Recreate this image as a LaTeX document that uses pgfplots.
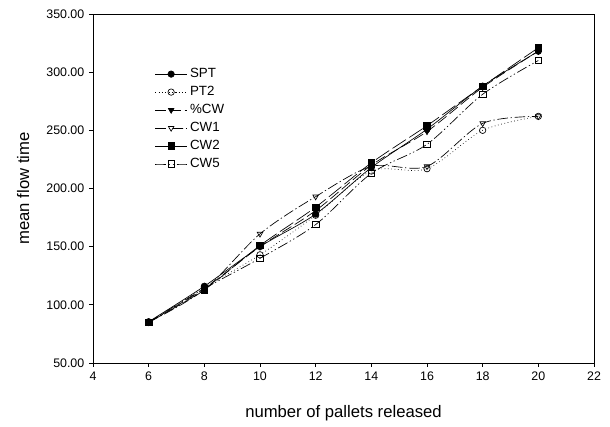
\documentclass[border=0pt]{standalone}
\usepackage{pgfplots}
\pgfplotsset{compat=1.18}
\usepackage{fontspec}
\setmainfont{Liberation Sans}

\begin{document}
\begin{tikzpicture}
\begin{axis}[
  scale only axis,
  width=375.75pt, height=261.75pt,
  xmin=4, xmax=22, ymin=50, ymax=350,
  xtick={4,6,...,22},
  ytick={50,100,...,350},
  axis line style={black, line width=0.6pt},
  tick style={black, line width=0.6pt},
  tick align=outside,
  major tick length=3pt,
  xtick pos=bottom, ytick pos=left,
  tick label style={font=\fontsize{9.3}{10}\selectfont},
  /pgf/number format/assume math mode=true,
  yticklabel={\pgfmathprintnumber[fixed, fixed zerofill, precision=2]{\tick}},
  xticklabel={\pgfmathprintnumber{\tick}},
  xlabel={number of pallets released},
  ylabel={mean flow time},
  label style={font=\fontsize{12.5}{14}\selectfont},
  xlabel style={yshift=-12pt},
  ylabel style={yshift=6pt},
  legend style={at={(0.115,0.86)}, anchor=north west, draw=none, fill=none,
    font=\fontsize{10}{11}\selectfont, row sep=1pt},
  legend cell align=left,
  legend image code/.code={
    \draw[mark repeat=2, mark phase=2, mark size=2.4pt, #1] plot coordinates {(0cm,0cm) (0.42cm,0cm) (0.84cm,0cm)};
  },
  every axis plot/.append style={black, line width=0.5pt, mark size=2.4pt},
]
\addplot[smooth, solid, mark=*, mark options={solid}] coordinates {(6,85.5) (8,116) (10,150) (12,178) (14,218) (16,251) (18,288) (20,318)};
\addlegendentry{SPT}
\addplot[smooth, dotted, mark=o, mark options={solid, fill=white}] coordinates {(6,85) (8,115) (10,143) (12,177) (14,215) (16,217) (18,250) (20,262)};
\addlegendentry{PT2}
\addplot[smooth, dash pattern=on 8pt off 3pt, mark=triangle*, mark options={solid, rotate=180}] coordinates {(6,85) (8,114) (10,150) (12,181) (14,220) (16,249) (18,287) (20,318)};
\addlegendentry{\%CW}
\addplot[smooth, dash pattern=on 8pt off 2pt on 1pt off 2pt, mark=triangle, mark options={solid, rotate=180, fill=white}] coordinates {(6,85) (8,113) (10,161) (12,193) (14,219) (16,219) (18,256) (20,262)};
\addlegendentry{CW1}
\addplot[smooth, dash pattern=on 12pt off 3pt, mark=square*, mark options={solid}] coordinates {(6,85) (8,113) (10,151) (12,184) (14,222) (16,254) (18,288) (20,321)};
\addlegendentry{CW2}
\addplot[smooth, dash pattern=on 8pt off 2pt on 1pt off 2pt on 1pt off 2pt, mark=square, mark options={solid, fill=white}] coordinates {(6,85) (8,114) (10,140) (12,169) (14,213) (16,238) (18,281) (20,310)};
\addlegendentry{CW5}
\end{axis}
\pgfresetboundingbox
\path (current axis.south west) ++(-69.75pt,-48pt) coordinate (bl);
\path (current axis.north east) ++(12pt,10.5pt) coordinate (tr);
\path[use as bounding box] (bl) rectangle (tr);
\end{tikzpicture}
\end{document}
